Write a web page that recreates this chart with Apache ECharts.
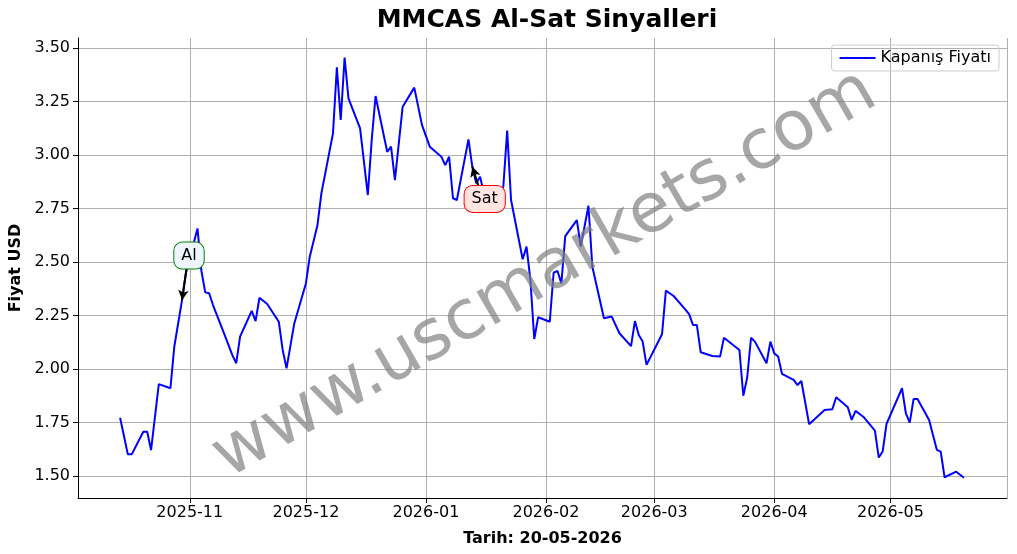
<!DOCTYPE html>
<html><head><meta charset="utf-8">
<script src="https://cdn.jsdelivr.net/npm/echarts@6/dist/echarts.min.js"></script>
<style>html,body{margin:0;padding:0;background:#fff}#c{width:1017px;height:554px}</style>
</head><body><div id="c"></div>
<script>
const dates = ["2025-10-14","2025-10-16","2025-10-17","2025-10-20","2025-10-21","2025-10-22","2025-10-24","2025-10-27","2025-10-28","2025-10-30","2025-10-31",
"2025-11-03","2025-11-04","2025-11-05","2025-11-06","2025-11-07","2025-11-10","2025-11-12","2025-11-13","2025-11-14","2025-11-17","2025-11-18","2025-11-19","2025-11-21","2025-11-24","2025-11-25","2025-11-26","2025-11-28",
"2025-12-01","2025-12-02","2025-12-04","2025-12-05","2025-12-08","2025-12-09","2025-12-10","2025-12-11","2025-12-12","2025-12-15","2025-12-17","2025-12-18","2025-12-19","2025-12-22","2025-12-23","2025-12-24","2025-12-26","2025-12-29","2025-12-31",
"2026-01-02","2026-01-05","2026-01-06","2026-01-07","2026-01-08","2026-01-09","2026-01-12","2026-01-13","2026-01-14","2026-01-15","2026-01-16","2026-01-20","2026-01-21","2026-01-22","2026-01-23","2026-01-26","2026-01-27","2026-01-28","2026-01-29","2026-01-30",
"2026-02-02","2026-02-03","2026-02-04","2026-02-05","2026-02-06","2026-02-09","2026-02-10","2026-02-12","2026-02-13","2026-02-16","2026-02-18","2026-02-20","2026-02-23","2026-02-24","2026-02-25","2026-02-26","2026-02-27",
"2026-03-03","2026-03-04","2026-03-06","2026-03-09","2026-03-10","2026-03-11","2026-03-12","2026-03-13","2026-03-16","2026-03-18","2026-03-19","2026-03-23","2026-03-24","2026-03-25","2026-03-26","2026-03-27","2026-03-30","2026-03-31",
"2026-04-01","2026-04-02","2026-04-03","2026-04-06","2026-04-07","2026-04-08","2026-04-10","2026-04-14","2026-04-16","2026-04-17","2026-04-20","2026-04-21","2026-04-22","2026-04-24","2026-04-27","2026-04-28","2026-04-29","2026-04-30",
"2026-05-04","2026-05-05","2026-05-06","2026-05-07","2026-05-08","2026-05-11","2026-05-12","2026-05-13","2026-05-14","2026-05-15","2026-05-18","2026-05-20"];
const prices = [1.772,1.601,1.601,1.707,1.707,1.621,1.929,1.910,2.104,2.322,2.45,
2.657,2.46,2.358,2.354,2.299,2.159,2.065,2.027,2.151,2.272,2.224,2.333,2.304,2.221,2.089,2.003,2.213,
2.400,2.525,2.673,2.821,3.101,3.410,3.164,3.456,3.265,3.125,2.813,3.07,3.276,3.015,3.039,2.883,3.226,3.315,3.140,
3.039,2.992,2.953,2.992,2.798,2.790,3.073,2.945,2.868,2.899,2.82,2.80,2.852,3.114,2.790,2.513,2.572,2.416,2.140,2.242,
2.221,2.450,2.458,2.400,2.621,2.696,2.572,2.763,2.478,2.237,2.245,2.167,2.107,2.224,2.159,2.128,2.019,
2.162,2.366,2.341,2.279,2.256,2.206,2.206,2.078,2.061,2.058,2.146,2.089,1.875,1.959,2.146,2.128,2.027,2.128,
2.073,2.058,1.977,1.949,1.925,1.944,1.742,1.808,1.812,1.868,1.821,1.762,1.804,1.777,1.712,1.586,1.614,1.743,
1.910,1.793,1.749,1.860,1.860,1.762,1.692,1.622,1.614,1.494,1.520,1.492];
const buySignal = {date:"2025-10-30", value:2.322, label:"Al"};
const sellSignal = {date:"2026-01-13", value:2.945, label:"Sat"};
const yTicks = [1.50,1.75,2.00,2.25,2.50,2.75,3.00,3.25,3.50];

const F = "DejaVu Sans";
const day = 86400000;
const t = s => new Date(s + "T00:00:00Z").getTime();
const chart = echarts.init(document.getElementById('c'));
chart.setOption({
  animation:false,
  textStyle:{fontFamily:F},
  title:{text:"MMCAS Al-Sat Sinyalleri", left:542, top:3, textAlign:'center',
    textStyle:{fontFamily:F, fontSize:25, fontWeight:'bold', color:'#000'}},
  legend:{right:18, top:45, orient:'vertical', itemWidth:36, itemHeight:2,
    padding:[5,8], borderColor:'#ccc', borderWidth:1, borderRadius:3,
    textStyle:{fontFamily:F, fontSize:16, color:'#000'},
    data:[{name:'Kapanış Fiyatı', icon:'rect'}]},
  grid:{left:78, right:10, top:38, bottom:56, containLabel:false, outerBoundsMode:'none'},
  xAxis:{type:'time', min:t("2025-10-03")+3*3600000, max:t("2026-05-31")+3*3600000,
    splitNumber:8,
    name:"Tarih: 20-05-2026", nameLocation:'middle', nameGap:33,
    nameTextStyle:{fontFamily:F, fontSize:16, fontWeight:'bold', color:'#000'},
    axisLine:{onZero:false, lineStyle:{color:'#000'}},
    axisTick:{show:true, length:5, lineStyle:{color:'#000'}},
    axisLabel:{fontFamily:F, fontSize:16, color:'#000', hideOverlap:false, margin:7,
      formatter: v => { const d=new Date(v); return d.getUTCDate()===1 ? d.getUTCFullYear()+'-'+String(d.getUTCMonth()+1).padStart(2,'0') : ''; }},
    splitLine:{show:true, lineStyle:{color:'#b0b0b0', width:1}}},
  yAxis:{type:'value', min:1.397, max:3.547,
    name:"Fiyat USD", nameLocation:'middle', nameGap:54,
    nameTextStyle:{fontFamily:F, fontSize:16, fontWeight:'bold', color:'#000'},
    axisLine:{show:true, lineStyle:{color:'#000'}},
    axisTick:{show:true, length:5, customValues:yTicks, lineStyle:{color:'#000'}},
    axisLabel:{fontFamily:F, fontSize:16, color:'#000', customValues:yTicks, formatter:v=>v.toFixed(2)},
    splitLine:{show:true, lineStyle:{color:'#b0b0b0', width:1}}},
  graphic:[{type:'text', x:545, y:275, rotation:Math.PI*30/180, z:100,
    style:{text:'www.uscmarkets.com', font:'69px "DejaVu Sans"', fill:'rgba(128,128,128,0.7)', align:'center', verticalAlign:'middle'}}],
  series:[{name:'Kapanış Fiyatı', type:'line', showSymbol:false, symbol:'none',
    lineStyle:{color:'#0000ff', width:2}, itemStyle:{color:'#0000ff'},
    data: dates.map((d,i)=>[t(d), prices[i]]),
    markLine:{silent:true, symbol:['none','arrow'], symbolSize:[8,10], label:{show:false},
      lineStyle:{color:'#000', width:2, type:'solid'},
      data:[
        [{coord:[t(buySignal.date)+1.2*day, buySignal.value+0.15]},{coord:[t(buySignal.date), buySignal.value]}],
        [{coord:[t(sellSignal.date)+1.6*day, sellSignal.value-0.09]},{coord:[t(sellSignal.date), sellSignal.value]}]
      ]},
    markPoint:{silent:true, symbol:'rect', symbolSize:1, itemStyle:{color:'transparent'},
      data:[
        {coord:[t(buySignal.date)+1.8*day, buySignal.value+0.208], label:{show:true, position:'inside', formatter:buySignal.label,
          fontFamily:F, fontSize:16, color:'#000', backgroundColor:'#eef5ff', borderColor:'#008000', borderWidth:1, borderRadius:8, padding:[5,7]}},
        {coord:[t(sellSignal.date)+3.2*day, sellSignal.value-0.15], label:{show:true, position:'inside', formatter:sellSignal.label,
          fontFamily:F, fontSize:16, color:'#000', backgroundColor:'#ffe4e1', borderColor:'#ff0000', borderWidth:1, borderRadius:8, padding:[5,7]}}
      ]}
  }]
});
</script></body></html>
